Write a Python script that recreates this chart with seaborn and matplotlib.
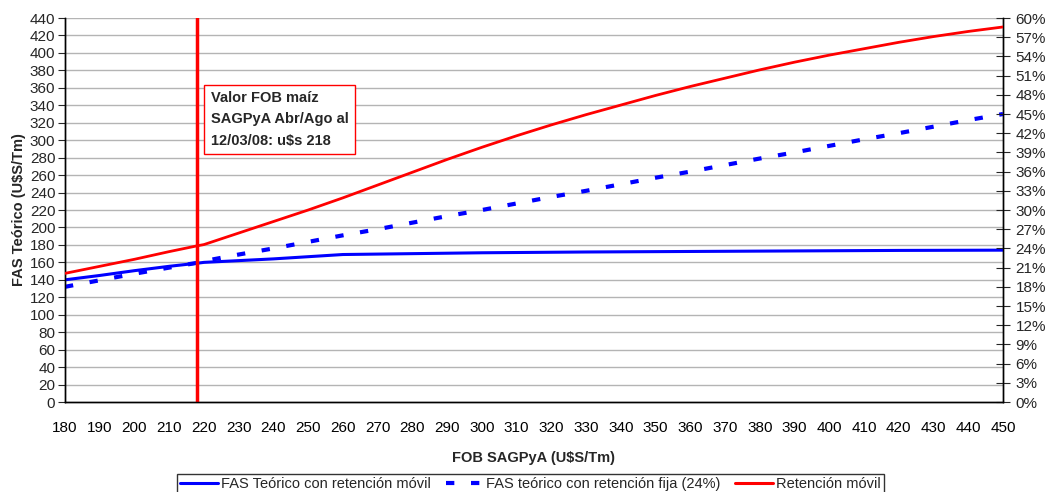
import numpy as np
import pandas as pd
import matplotlib
matplotlib.use("Agg")
import matplotlib.pyplot as plt
import seaborn as sns
from matplotlib.ticker import MultipleLocator, PercentFormatter
from matplotlib.lines import Line2D

# FOB SAGPyA (U$S/Tm) values
fob = [180, 190, 200, 210, 218, 220, 230, 240, 250, 260, 270, 280, 290, 300,
       310, 320, 330, 340, 350, 360, 370, 380, 390, 400, 410, 420, 430, 440, 450]

# FAS teorico con retencion movil (U$S/Tm)
fas_movil = [140, 145, 150.5, 155.5, 159, 160, 162, 164, 166.5, 169, 169.5, 170, 170.5, 171,
             171.3, 171.6, 171.9, 172.1, 172.3, 172.5, 172.7, 172.9, 173.1, 173.3, 173.5,
             173.7, 173.8, 173.9, 174]

# FAS teorico con retencion fija 24% (U$S/Tm)
fas_fija = [132, 139.5, 147, 154, 159.5, 161.5, 169, 176, 183.5, 191, 198, 205.5, 213, 220,
            227.5, 235, 242, 249.5, 257, 264, 271.5, 279, 286, 293.5, 301, 308, 315.5, 323, 330]

# Retencion movil (fraction)
ret_movil = [0.201, 0.212, 0.223, 0.235, 0.244, 0.246, 0.264, 0.282, 0.300, 0.319, 0.339,
             0.359, 0.379, 0.398, 0.416, 0.433, 0.449, 0.464, 0.479, 0.493, 0.506, 0.519,
             0.531, 0.542, 0.552, 0.562, 0.571, 0.579, 0.586]

fob_ref = 218
note = "Valor FOB maíz\nSAGPyA Abr/Ago al\n12/03/08: u$s 218"

sns.set_style("white")
plt.rcParams['font.family'] = ['Liberation Sans Narrow', 'Liberation Sans', 'DejaVu Sans']

df = pd.DataFrame({"fob": fob, "movil": fas_movil, "fija": fas_fija, "ret": ret_movil})

fig, ax = plt.subplots(figsize=(10.55, 4.92), dpi=100)
fig.subplots_adjust(left=0.0616, right=0.9507, top=0.9634, bottom=0.1829)
ax2 = ax.twinx()

# gridlines
for v in range(20, 441, 20):
    ax.axhline(v, color="#b4b4b4", lw=1.0, zorder=0)

sns.lineplot(data=df, x="fob", y="movil", ax=ax, color="#0000ff", lw=2.2, zorder=3)
sns.lineplot(data=df, x="fob", y="fija", ax=ax, color="#0000ff", lw=3, zorder=3)
ax.lines[-1].set_dashes([2, 4])
sns.lineplot(data=df, x="fob", y="ret", ax=ax2, color="#ff0000", lw=2, zorder=3)
ax.axvline(fob_ref, color="#ff0000", lw=2.5, zorder=4)

ax.set_xlim(180, 450)
ax.set_ylim(0, 440)
ax2.set_ylim(0, 0.6)
ax.xaxis.set_major_locator(MultipleLocator(10))
ax.xaxis.set_minor_locator(MultipleLocator(1))
ax.yaxis.set_major_locator(MultipleLocator(20))
ax2.yaxis.set_major_locator(MultipleLocator(0.03))
ax2.yaxis.set_major_formatter(PercentFormatter(1.0, decimals=0))

ax.tick_params(axis="x", which="both", direction="out", length=4, width=0.8,
               labelsize=11, pad=10, colors="black")
ax.tick_params(axis="y", direction="out", length=5, width=0.8, labelsize=11, pad=2)
ax2.tick_params(axis="y", direction="inout", length=10, width=0.8, labelsize=11, pad=4)

for a in (ax, ax2):
    a.spines["top"].set_visible(False)
    for s in ("left", "right", "bottom"):
        a.spines[s].set_color("black")
        a.spines[s].set_linewidth(1)

ax.set_xlabel("FOB SAGPyA (U$S/Tm)", fontsize=10.5, fontweight="bold", labelpad=11)
ax.set_ylabel("FAS Teórico (U$S/Tm)", fontsize=10.5, fontweight="bold", labelpad=3)
ax2.set_ylabel("")

ax.text(222, 356, note, fontsize=10.5, fontweight="bold", va="top", ha="left",
        linespacing=1.65, zorder=5,
        bbox=dict(boxstyle="square,pad=0.45", fc="white", ec="#ff0000", lw=1))

handles = [
    Line2D([], [], color="#0000ff", lw=2.2),
    Line2D([], [], color="#0000ff", lw=3, dashes=[2, 4]),
    Line2D([], [], color="#ff0000", lw=2.2),
]
labels = ["FAS Teórico con retención móvil", "FAS teórico con retención fija (24%)",
          "Retención móvil"]
leg = fig.legend(handles, labels, loc="upper center", bbox_to_anchor=(0.503, 0.037),
                 ncol=3, fontsize=10.5, frameon=True, fancybox=False, handlelength=2.6,
                 handletextpad=0.2, columnspacing=1.0, borderpad=0.2, borderaxespad=0)
leg.get_frame().set_edgecolor("black")
leg.get_frame().set_linewidth(1)

fig.savefig("out.png", dpi=100)
